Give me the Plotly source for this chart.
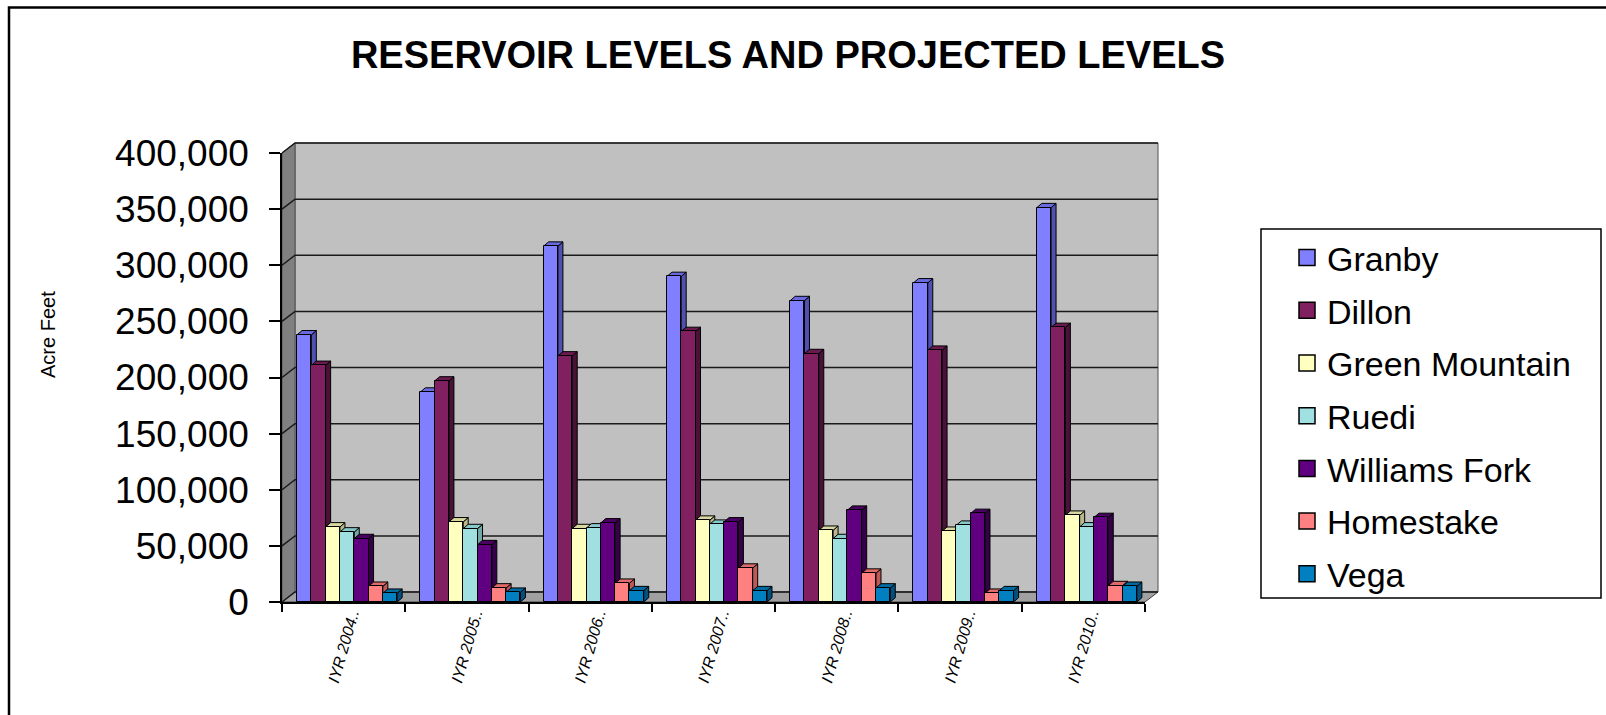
import plotly.graph_objects as go

# ---- data -------------------------------------------------------------
categories = ["IYR 2004..", "IYR 2005..", "IYR 2006..", "IYR 2007..",
              "IYR 2008..", "IYR 2009..", "IYR 2010.."]

granby = [238000, 187000, 317000, 290000, 268500, 284300, 351300]
dillon = [210800, 196900, 219200, 241000, 221300, 224300, 244600]
green_mountain = [66900, 71400, 65400, 72900, 63900, 63000, 77300]
ruedi = [62400, 65400, 66000, 69300, 56500, 68400, 66900]
williams_fork = [56500, 51100, 70500, 71400, 81800, 78900, 75300]
homestake = [14000, 12500, 16700, 30200, 25700, 7800, 14600]
vega = [7800, 8700, 10100, 10100, 12500, 10100, 14000]

series_names = ["Granby", "Dillon", "Green Mountain", "Ruedi",
                "Williams Fork", "Homestake", "Vega"]
series_values = [granby, dillon, green_mountain, ruedi,
                 williams_fork, homestake, vega]

y_ticks = [0, 50000, 100000, 150000, 200000, 250000, 300000, 350000, 400000]
y_max = 400000

# ---- styling ------------------------------------------------------------
front_colors = ["#8080FF", "#802060", "#FFFFC0", "#A0E0E0",
                "#600080", "#FF8080", "#0080C0"]
side_colors = ["#5050B0", "#4A1238", "#B8B888", "#70A8A8",
               "#36004A", "#C05858", "#005080"]
top_colors = ["#6A6AE0", "#6A1A50", "#D8D8A0", "#88C8C8",
              "#4A0062", "#E06A6A", "#006AA0"]

FONT = "Liberation Sans, Arial, sans-serif"
WIDTH, HEIGHT = 1606, 715
M_L, M_R, M_T, M_B = 282, 461, 153, 113
PLOT_W = WIDTH - M_L - M_R
PLOT_H = HEIGHT - M_T - M_B
PL, PR, PT, PB = M_L, WIDTH - M_R, M_T, HEIGHT - M_B

DEPTH_X, DEPTH_Y = 13, 10          # wall depth (px)
BAR_DX_PX, BAR_DY_PX = 5, 4.3      # bar depth (px)

BAR_W = 0.116                      # bar width in category units
GROUP_START = 0.122                # first bar's left edge inside a category
LABEL_SHIFT = 0.065                # category label offset from category centre

LEGEND_BOX = (1261, 229, 1601, 598)  # left, top, right, bottom (px)


def px(x):
    return (x - PL) / PLOT_W


def py(y):
    return (PB - y) / PLOT_H


fig = go.Figure()

# grouped bars on a numeric category axis
bar_dx = BAR_DX_PX / (PLOT_W / len(categories))
bar_dy = BAR_DY_PX * y_max / PLOT_H
side_paths, top_paths = [], []
for i, (name, vals) in enumerate(zip(series_names, series_values)):
    xs = [k + GROUP_START + BAR_W / 2 + i * BAR_W for k in range(len(categories))]
    fig.add_trace(go.Bar(
        x=xs, y=vals, width=BAR_W, name=name, showlegend=False,
        marker=dict(color=front_colors[i], line=dict(color="black", width=1)),
        hovertemplate="%{y:,}<extra>" + name + "</extra>",
    ))
    sp, tp = [], []
    for x, v in zip(xs, vals):
        xl, xr = x - BAR_W / 2, x + BAR_W / 2
        sp.append(f"M{xr},0 L{xr},{v} L{xr + bar_dx},{v + bar_dy} L{xr + bar_dx},{bar_dy} Z")
        tp.append(f"M{xl},{v} L{xr},{v} L{xr + bar_dx},{v + bar_dy} L{xl + bar_dx},{v + bar_dy} Z")
    side_paths.append(" ".join(sp))
    top_paths.append(" ".join(tp))

# legend keys with square swatches
for i, name in enumerate(series_names):
    fig.add_trace(go.Scatter(
        x=[None], y=[None], mode="markers", name=name, legendgroup=name,
        marker=dict(symbol="square", size=16, color=front_colors[i],
                    line=dict(color="black", width=1.5)),
        hoverinfo="skip",
    ))

shapes = []
# outer frame (left and top edges; the rest runs off the page)
shapes.append(dict(type="path", xref="paper", yref="paper",
                   path=f"M{px(9)},{py(HEIGHT + 20)} L{px(9)},{py(7.5)} L{px(WIDTH + 20)},{py(7.5)}",
                   line=dict(color="black", width=2.5), layer="below"))
# legend frame
shapes.append(dict(type="rect", xref="paper", yref="paper",
                   x0=px(LEGEND_BOX[0]), x1=px(LEGEND_BOX[2]),
                   y0=py(LEGEND_BOX[3]), y1=py(LEGEND_BOX[1]),
                   fillcolor="white", line=dict(color="black", width=1.5),
                   layer="below"))
# back wall
shapes.append(dict(type="rect", xref="paper", yref="paper",
                   x0=px(PL + DEPTH_X), x1=px(PR + DEPTH_X),
                   y0=py(PB - DEPTH_Y), y1=py(PT - DEPTH_Y),
                   fillcolor="#C0C0C0", line=dict(color="#505050", width=1),
                   layer="below"))
# left side wall
shapes.append(dict(type="path", xref="paper", yref="paper",
                   path=(f"M{px(PL)},{py(PB)} L{px(PL)},{py(PT)} "
                         f"L{px(PL + DEPTH_X)},{py(PT - DEPTH_Y)} "
                         f"L{px(PL + DEPTH_X)},{py(PB - DEPTH_Y)} Z"),
                   fillcolor="#808080", line=dict(color="#505050", width=1),
                   layer="below"))
# floor
shapes.append(dict(type="path", xref="paper", yref="paper",
                   path=(f"M{px(PL)},{py(PB)} L{px(PR)},{py(PB)} "
                         f"L{px(PR + DEPTH_X)},{py(PB - DEPTH_Y)} "
                         f"L{px(PL + DEPTH_X)},{py(PB - DEPTH_Y)} Z"),
                   fillcolor="#A0A0A0", line=dict(color="#404040", width=1),
                   layer="below"))
# gridlines on side wall and back wall
for v in y_ticks:
    yf = PB - v / y_max * PLOT_H
    shapes.append(dict(type="path", xref="paper", yref="paper",
                       path=(f"M{px(PL)},{py(yf)} L{px(PL + DEPTH_X)},{py(yf - DEPTH_Y)} "
                             f"L{px(PR + DEPTH_X)},{py(yf - DEPTH_Y)}"),
                       line=dict(color="#1A1A1A", width=1.5), layer="below"))
# bar side and top faces
for i in range(len(series_names)):
    shapes.append(dict(type="path", xref="x", yref="y", path=side_paths[i],
                       fillcolor=side_colors[i], line=dict(color="black", width=1),
                       layer="below"))
    shapes.append(dict(type="path", xref="x", yref="y", path=top_paths[i],
                       fillcolor=top_colors[i], line=dict(color="black", width=1),
                       layer="below"))

fig.update_layout(
    width=WIDTH, height=HEIGHT,
    margin=dict(l=M_L, r=M_R, t=M_T, b=M_B, autoexpand=False),
    paper_bgcolor="white", plot_bgcolor="rgba(0,0,0,0)",
    barmode="overlay", bargap=0,
    font=dict(family=FONT, color="black"),
    title=dict(text="<b>RESERVOIR LEVELS AND PROJECTED LEVELS</b>",
               font=dict(family=FONT, size=38, color="black"),
               x=788 / WIDTH, xanchor="center", xref="container",
               y=1 - 55 / HEIGHT, yanchor="middle", yref="container"),
    xaxis=dict(range=[0, len(categories)], showgrid=False, zeroline=False,
               tickmode="array",
               tickvals=[k + 0.5 + LABEL_SHIFT for k in range(len(categories))],
               ticktext=categories, ticks="", tickangle=-74,
               ticklabelstandoff=-6,
               tickfont=dict(family=FONT, size=16, style="italic", color="black"),
               showline=True, linecolor="black", linewidth=2,
               minor=dict(tickmode="array", tickvals=list(range(len(categories) + 1)),
                          ticks="outside", ticklen=8, tickwidth=1.5, tickcolor="black"),
               fixedrange=True),
    yaxis=dict(range=[0, y_max], showgrid=False, zeroline=False,
               tickmode="array", tickvals=y_ticks,
               ticktext=[f"{v:,}" for v in y_ticks],
               ticks="outside", ticklen=11, tickwidth=1.5, tickcolor="black",
               ticklabelstandoff=13,
               tickfont=dict(family=FONT, size=37, color="black"),
               showline=True, linecolor="black", linewidth=1.5,
               fixedrange=True),
    legend=dict(xref="container", yref="container",
                x=LEGEND_BOX[0] / WIDTH, y=1 - LEGEND_BOX[1] / HEIGHT,
                xanchor="left", yanchor="top",
                borderwidth=0, bgcolor="rgba(0,0,0,0)",
                font=dict(family=FONT, size=34, color="black"),
                traceorder="grouped", tracegroupgap=5.5, indentation=26,
                maxheight=700),
    shapes=shapes,
    annotations=[dict(text="Acre Feet", xref="paper", yref="paper",
                      x=px(48), y=py(334), xanchor="center", yanchor="middle",
                      textangle=-90, showarrow=False,
                      font=dict(family=FONT, size=20, color="black"))],
)

fig.write_html("out.html")
